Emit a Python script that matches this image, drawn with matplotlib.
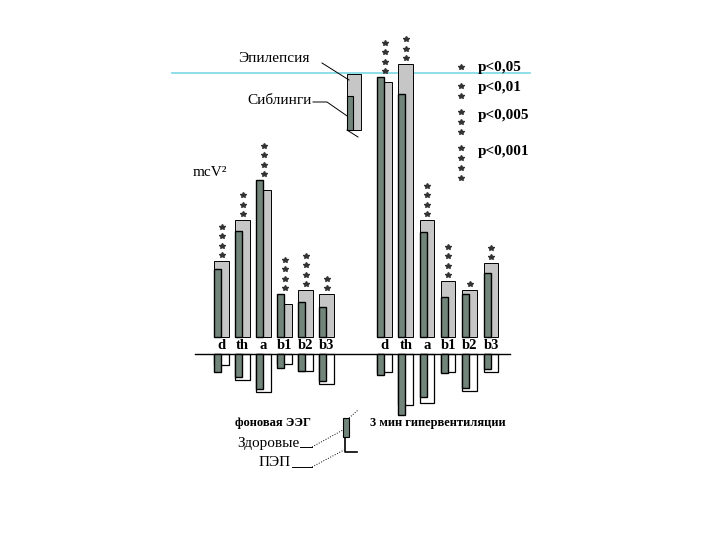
import matplotlib.pyplot as plt
from matplotlib.patches import Rectangle

plt.rcParams['font.family'] = ['Liberation Serif', 'DejaVu Serif']

bands = ["d", "th", "a", "b1", "b2", "b3"]

# upper part (mcV^2 in its own scale)
bg_epilepsy = [76, 117, 147, 33, 47, 43]
bg_siblings = [68, 106, 157, 43, 35, 30]
hv_epilepsy = [255, 273, 117, 56, 47, 74]
hv_siblings = [260, 243, 105, 40, 43, 64]

# lower part (drawn downward from the base line)
bg_healthy = [18, 23, 35, 14, 17, 27]
bg_pep = [11, 26, 38, 10, 17, 30]
hv_healthy = [21, 61, 43, 19, 34, 15]
hv_pep = [18, 51, 49, 18, 37, 18]

# number of significance stars
bg_stars = [4, 3, 4, 4, 4, 2]
hv_stars = [4, 3, 4, 4, 1, 2]

p_labels = ["p<0,05", "p<0,01", "p<0,005", "p<0,001"]

DARK = "#71857b"
LIGHT = "#c6c6c6"
BASE = -17  # the split line between upper and lower parts
TOP = 337


def py(y):
    # picture row -> data value
    return TOP - y


fig = plt.figure(figsize=(7.2, 5.4), dpi=100)
ax = fig.add_axes([0, 0, 1, 1])
ax.set_xlim(0, 720)
ax.set_ylim(TOP - 540, TOP)
ax.axis("off")


def draw_group(x0, step, up_light, up_dark, dn_dark, dn_white, stars):
    xs = [x0 + i * step for i in range(len(bands))]
    ax.bar(xs, up_light, width=14.5, align="edge", color=LIGHT,
           edgecolor="black", linewidth=0.7, zorder=2)
    ax.bar(xs, up_dark, width=7, align="edge", color=DARK,
           edgecolor="black", linewidth=1.0, zorder=3)
    ax.bar(xs, [-v for v in dn_white], bottom=BASE, width=14.5, align="edge",
           color="white", edgecolor="black", linewidth=0.9, zorder=2)
    ax.bar(xs, [-v for v in dn_dark], bottom=BASE, width=7, align="edge",
           color=DARK, edgecolor="black", linewidth=1.0, zorder=3)
    for x, lab, a, b, n in zip(xs, bands, up_light, up_dark, stars):
        ax.text(x + 7.5, BASE / 2, lab, ha="center", va="center",
                fontsize=10.5, fontweight="bold")
        top = max(a, b)
        ax.plot([x + 7.5] * n, [top + 6 + k * 9.5 for k in range(n)],
                ls="none", marker="*", ms=3.8, color="#333333", zorder=4)


draw_group(214, 21, bg_epilepsy, bg_siblings, bg_healthy, bg_pep, bg_stars)
draw_group(377, 21.3, hv_epilepsy, hv_siblings, hv_healthy, hv_pep, hv_stars)

# base line and the cyan guide line
ax.plot([195, 510], [BASE, BASE], color="black", lw=1.0)
ax.plot([172, 530], [py(73), py(73)], color="#86dbe6", lw=1.3, zorder=1)

# significance legend
for i, lab in enumerate(p_labels):
    y0 = [67, 86, 112, 148][i]
    ax.plot([461] * (i + 1), [py(y0 + k * 10) for k in range(i + 1)],
            ls="none", marker="*", ms=3.8, color="#333333")
    ax.text(478, py([67, 88, 115, 152][i]), lab, fontsize=11,
            fontweight="bold", va="center", ha="left")

# Epilepsy / Siblings legend
ax.add_patch(Rectangle((347, py(130)), 14, 56, facecolor=LIGHT,
                       edgecolor="black", lw=0.7, zorder=2))
ax.add_patch(Rectangle((347, py(130)), 6, 34, facecolor=DARK,
                       edgecolor="black", lw=0.8, zorder=3))
ax.text(274, py(58), "Эпилепсия", fontsize=11, ha="center", va="center")
ax.text(312, py(100), "Сиблинги", fontsize=11, ha="right", va="center")
ax.plot([322, 349], [py(63), py(80)], color="black", lw=0.7)
ax.plot([313, 327, 350], [py(102), py(102), py(118)], color="black", lw=0.7)
ax.plot([347, 358], [py(130), py(137)], color="black", lw=0.7)

ax.text(193, py(172), "mcV²", fontsize=11, ha="left", va="center")

# lower legend
ax.text(235, py(423), "фоновая ЭЭГ", fontsize=9, fontweight="bold",
        ha="left", va="center")
ax.text(370, py(423), "3 мин гипервентиляции", fontsize=9,
        fontweight="bold", ha="left", va="center")
ax.add_patch(Rectangle((343, py(437)), 6, 19, facecolor=DARK,
                       edgecolor="black", lw=0.8, zorder=3))
ax.plot([345, 345, 357], [py(437), py(452), py(452)], color="black", lw=1.2)
ax.text(300, py(443), "Здоровые", fontsize=11, ha="right", va="center")
ax.text(291, py(463), "ПЭП", fontsize=11, ha="right", va="center")
ax.plot([300, 312], [py(447), py(447)], color="black", lw=0.7)
ax.plot([292, 312], [py(467), py(467)], color="black", lw=0.7)
ax.plot([312, 343], [py(447), py(430)], color="black", lw=0.7, ls=":")
ax.plot([312, 344], [py(467), py(450)], color="black", lw=0.7, ls=":")
ax.plot([349, 358], [py(418), py(410)], color="black", lw=0.7, ls=":")

fig.savefig("out.png", dpi=100)
